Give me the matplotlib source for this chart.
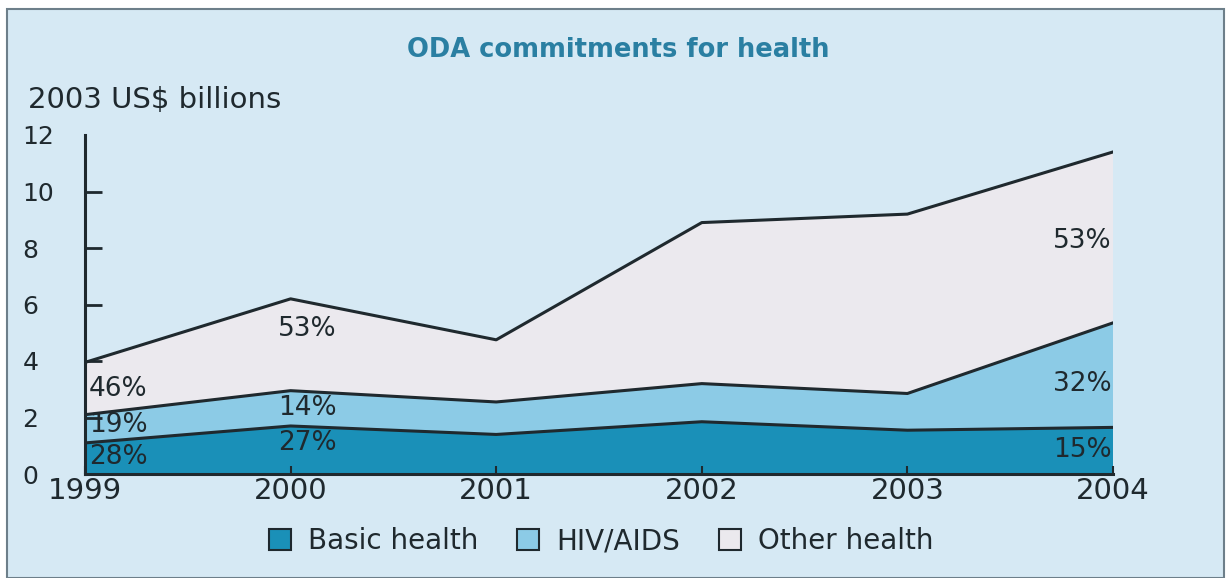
import numpy as np
import matplotlib.pyplot as plt
from matplotlib.patches import Rectangle, Patch

# ----------------------------------------------------------------------
# DATA (2003 US$ billions)
# ----------------------------------------------------------------------
years = [1999, 2000, 2001, 2002, 2003, 2004]
basic = [1.10, 1.70, 1.40, 1.85, 1.55, 1.65]
hiv = [1.00, 1.25, 1.15, 1.35, 1.30, 3.70]
other = [1.85, 3.25, 2.20, 5.70, 6.35, 6.05]

series_names = ["Basic health", "HIV/AIDS", "Other health"]
series_colors = ["#1a90b8", "#8ccbe6", "#ebe9ee"]

# share labels: (year, y, text, horizontal alignment)
share_labels = [
    (1999, 3.00, "46%", "left"),
    (1999, 1.75, "19%", "left"),
    (1999, 0.60, "28%", "left"),
    (2000, 5.15, "53%", "center"),
    (2000, 2.35, "14%", "center"),
    (2000, 1.10, "27%", "center"),
    (2004, 8.25, "53%", "right"),
    (2004, 3.20, "32%", "right"),
    (2004, 0.85, "15%", "right"),
]

BG = "#d6e9f4"
INK = "#1f292e"
plt.rcParams["font.family"] = ["DejaVu Sans"]

fig = plt.figure(figsize=(12.28, 5.78), dpi=100, facecolor="white")
fig.patches.append(Rectangle((7 / 1228, 0), 1217 / 1228, 569 / 578,
                             transform=fig.transFigure, facecolor=BG,
                             edgecolor="#6d7f8a", lw=1.5, zorder=-5))

ax = fig.add_axes([85 / 1228, 1 - 474 / 578, 1028 / 1228, 339 / 578])
ax.set_facecolor("none")

ax.stackplot(years, basic, hiv, other, colors=series_colors,
             edgecolor="none", zorder=1)
cum = np.cumsum([basic, hiv, other], axis=0)
for row in cum:
    ax.plot(years, row, color=INK, lw=2.2, zorder=2)

offsets = {"left": 0.02, "center": 0.08, "right": -0.005}
for yr, yv, txt, ha in share_labels:
    ax.text(yr + offsets[ha], yv, txt, ha=ha, va="center", fontsize=19,
            color=INK, zorder=3)

ax.set_xlim(1999, 2004)
ax.set_ylim(0, 12)
ax.set_xticks(years)
ax.set_yticks(range(0, 13, 2))
ax.yaxis.remove_overlapping_locs = False
ax.set_yticks(range(2, 11, 2), minor=True)
for s in ["top", "right"]:
    ax.spines[s].set_visible(False)
for s in ["left", "bottom"]:
    ax.spines[s].set_linewidth(2.2)
    ax.spines[s].set_color(INK)
    ax.spines[s].set_zorder(4)
ax.tick_params(axis="y", which="major", length=0, labelsize=18,
               labelcolor=INK, pad=45)
ax.tick_params(axis="y", which="minor", direction="in", length=12, width=2,
               color=INK)
ax.tick_params(axis="x", direction="in", length=6, width=1.5, color=INK,
               labelsize=21, labelcolor=INK, pad=2)
for lbl in ax.get_yticklabels():
    lbl.set_horizontalalignment("left")

fig.text(28 / 1228, 1 - 100 / 578, "2003 US$ billions", fontsize=21,
         color=INK, va="center", ha="left")
fig.text(618 / 1228, 1 - 50 / 578, "ODA commitments for health", fontsize=18.5,
         color="#2a7fa2", va="center", ha="center", fontweight="bold")

handles = [Patch(facecolor=c, edgecolor=INK, lw=1.5) for c in series_colors]
fig.legend(handles, series_names, loc="center", ncol=3,
           bbox_to_anchor=(601 / 1228, 1 - 541 / 578), frameon=False,
           fontsize=20, handlelength=0.8, handleheight=0.8, handletextpad=0.6,
           columnspacing=1.4, labelcolor=INK)

fig.savefig("out.png", dpi=100, facecolor=fig.get_facecolor())
